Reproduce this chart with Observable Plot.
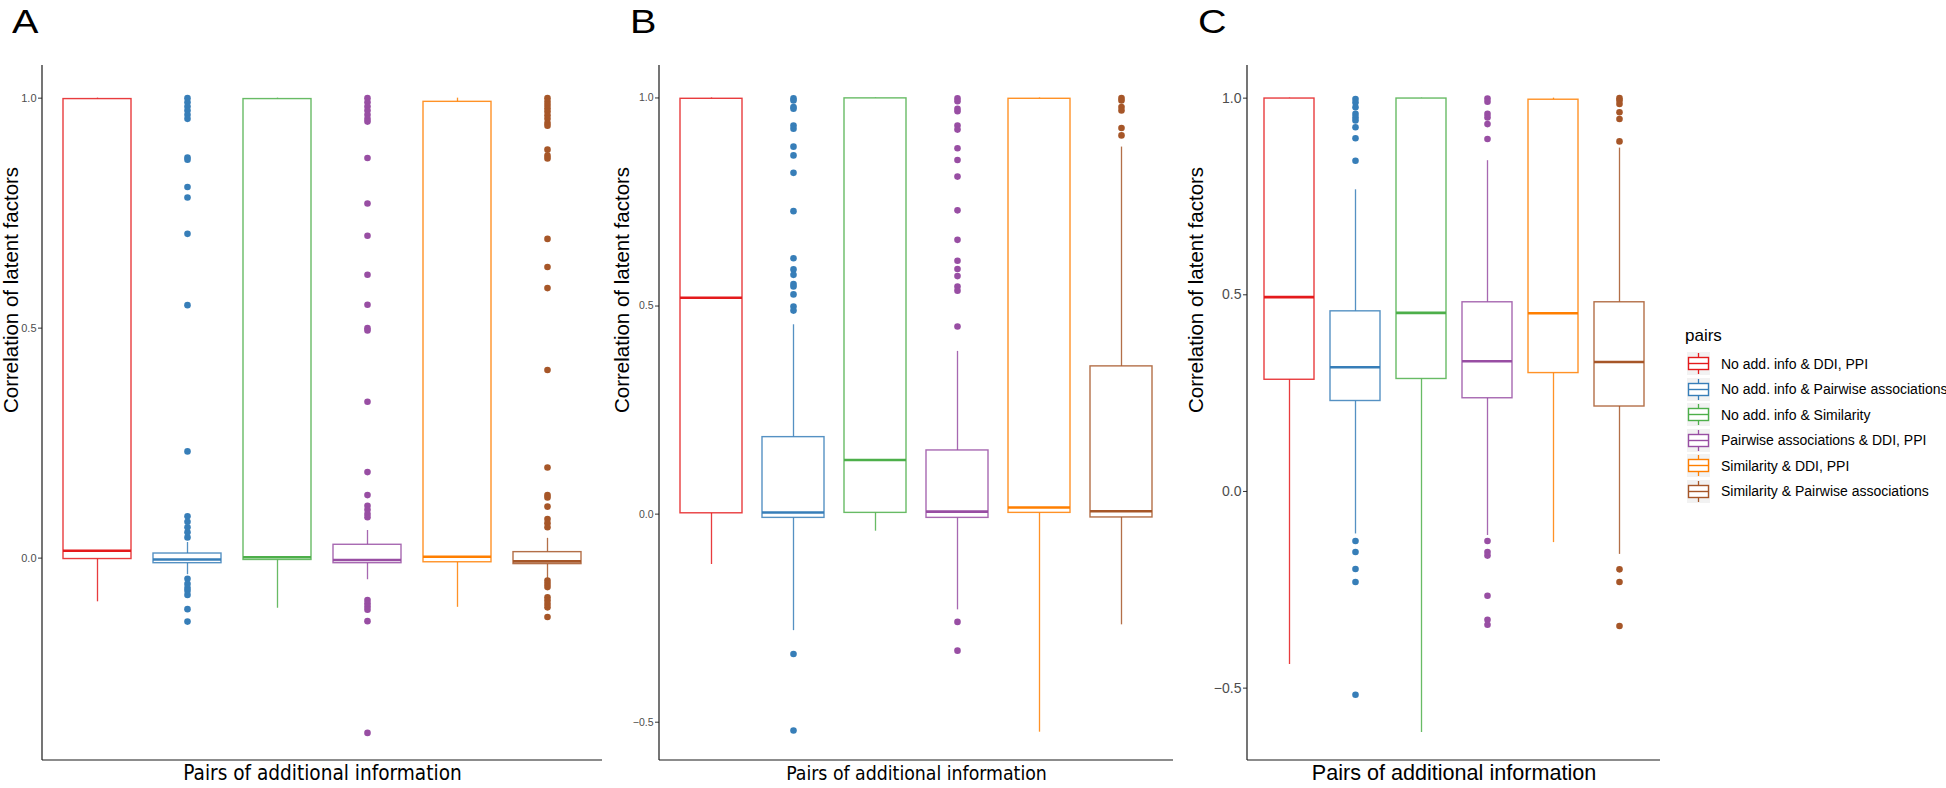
<!DOCTYPE html>
<html><head><meta charset="utf-8">
<script src="https://cdn.jsdelivr.net/npm/d3@7"></script>
<script src="https://cdn.jsdelivr.net/npm/@observablehq/plot@0.6"></script>
<style>
body{margin:0;background:#fff;}
#wrap{position:relative;width:1946px;height:788px;overflow:hidden;background:#fff;font-family:"Liberation Sans",Arial,sans-serif;}
.panel{position:absolute;top:0;}
.letter{position:absolute;top:5px;font-family:"Liberation Sans",Arial,sans-serif;font-size:33px;line-height:34px;color:#000;transform:scaleX(1.2);transform-origin:0 0;}
.ltitle{position:absolute;left:1685px;top:325px;font-size:17px;line-height:22px;color:#000;}
.lrow{position:absolute;left:1687px;height:23px;display:flex;align-items:center;}
.lrow span{margin-left:11px;font-size:14px;color:#000;white-space:nowrap;}
</style></head><body><div id="wrap"></div>
<script>
// ---- data ----
const pairs = ["No add. info & DDI, PPI", "No add. info & Pairwise associations", "No add. info & Similarity", "Pairwise associations & DDI, PPI", "Similarity & DDI, PPI", "Similarity & Pairwise associations"];
const pairColors = ["#E41A1C", "#377EB8", "#4DAF4A", "#984EA3", "#FF7F00", "#A65628"];
const yTicks = [-0.5, 0.0, 0.5, 1.0];
const yTitle = "Correlation of latent factors";
const xTitle = "Pairs of additional information";
const legendTitle = "pairs";
const panelLetters = ["A", "B", "C"];

// Panel A
const A_low    = [-0.095, -0.036, -0.109, -0.047, -0.107, -0.045];
const A_q1     = [-0.002, -0.011, -0.004, -0.011, -0.009, -0.013];
const A_median = [ 0.016, -0.003,  0.002, -0.004,  0.003, -0.007];
const A_q3     = [ 0.998,  0.010,  0.998,  0.029,  0.992,  0.013];
const A_high   = [ 1.000,  0.034,  1.000,  0.060,  1.000,  0.043];
const A_outliers = [
  [],
  [1.0, 0.991, 0.982, 0.973, 0.964, 0.955, 0.871, 0.866, 0.807, 0.784, 0.705, 0.550, 0.232, 0.091, 0.079, 0.067, 0.056, 0.045, -0.045, -0.056, -0.065, -0.071, -0.080, -0.111, -0.138],
  [],
  [1.0, 0.991, 0.982, 0.973, 0.964, 0.955, 0.949, 0.870, 0.771, 0.701, 0.616, 0.551, 0.500, 0.495, 0.340, 0.187, 0.137, 0.114, 0.105, 0.096, 0.089, -0.091, -0.098, -0.105, -0.112, -0.137, -0.380],
  [],
  [1.0, 0.992, 0.985, 0.978, 0.971, 0.963, 0.955, 0.946, 0.940, 0.888, 0.875, 0.869, 0.694, 0.633, 0.587, 0.409, 0.197, 0.137, 0.132, 0.112, 0.085, 0.076, 0.067, -0.049, -0.056, -0.063, -0.085, -0.092, -0.100, -0.107, -0.128]
];

// Panel B
const B_low    = [-0.121, -0.280, -0.041, -0.230, -0.524, -0.266];
const B_q1     = [ 0.002, -0.009,  0.003, -0.009,  0.003, -0.008];
const B_median = [ 0.520,  0.004,  0.130,  0.006,  0.016,  0.007];
const B_q3     = [ 0.998,  0.185,  0.999,  0.153,  0.998,  0.355];
const B_high   = [ 1.000,  0.455,  1.000,  0.391,  1.000,  0.882];
const B_outliers = [
  [],
  [0.999, 0.994, 0.978, 0.974, 0.934, 0.926, 0.883, 0.862, 0.820, 0.728, 0.615, 0.588, 0.575, 0.553, 0.547, 0.528, 0.499, 0.489, -0.336, -0.520],
  [],
  [0.999, 0.992, 0.974, 0.968, 0.934, 0.924, 0.879, 0.851, 0.811, 0.730, 0.659, 0.609, 0.589, 0.572, 0.547, 0.537, 0.451, -0.259, -0.328],
  [],
  [1.0, 0.994, 0.978, 0.970, 0.928, 0.910]
];

// Panel C
const C_low    = [-0.440, -0.108, -0.613, -0.112, -0.130, -0.160];
const C_q1     = [ 0.284,  0.230,  0.286,  0.237,  0.301,  0.216];
const C_median = [ 0.494,  0.316,  0.454,  0.331,  0.453,  0.329];
const C_q3     = [ 0.999,  0.458,  0.999,  0.481,  0.996,  0.481];
const C_high   = [ 1.000,  0.767,  1.000,  0.841,  1.000,  0.873];
const C_outliers = [
  [],
  [0.998, 0.989, 0.977, 0.960, 0.951, 0.943, 0.926, 0.898, 0.841, -0.126, -0.154, -0.197, -0.230, -0.517],
  [],
  [0.999, 0.991, 0.960, 0.951, 0.934, 0.896, -0.126, -0.154, -0.163, -0.265, -0.326, -0.339],
  [],
  [1.0, 0.994, 0.985, 0.964, 0.947, 0.890, -0.198, -0.230, -0.342]
];

// ---- layout ----
const panelsCfg = [
  {left: 0,    width: 610, marginLeft: 42, marginRight: 8,  yDomain: [-0.440, 1.071], tickFont: 11, yTitleDx: -31, xFont: 20.6, xFamily: "'Liberation Sans Narrow', 'DejaVu Sans Condensed', sans-serif", letterX: 12},
  {left: 610,  width: 570, marginLeft: 49, marginRight: 7,  yDomain: [-0.592, 1.078], tickFont: 10.5, yTitleDx: -37, xFont: 19.3, xFamily: "'Liberation Sans Narrow', 'DejaVu Sans Condensed', sans-serif", letterX: 630},
  {left: 1180, width: 490, marginLeft: 67, marginRight: 10, yDomain: [-0.684, 1.083], tickFont: 14, yTitleDx: -51, xFont: 21.6, xFamily: "'Liberation Sans', Arial, sans-serif", letterX: 1198}
];
const panelData = [
  [A_low, A_q1, A_median, A_q3, A_high, A_outliers],
  [B_low, B_q1, B_median, B_q3, B_high, B_outliers],
  [C_low, C_q1, C_median, C_q3, C_high, C_outliers]
];

function makePanel(cfg, [low, q1, med, q3, high, outl]) {
  const stats = pairs.map((p, i) => ({pair: p, low: low[i], q1: q1[i], median: med[i], q3: q3[i], high: high[i]}));
  const pts = pairs.flatMap((p, i) => outl[i].map(v => ({pair: p, value: v})));
  const [y0, y1] = cfg.yDomain;
  const ticks = yTicks.filter(t => t >= y0 && t <= y1);
  const axisLines = (index, scales, values, dims) => {
    const g = d3.create("svg:g").attr("stroke", "#1a1a1a").attr("stroke-width", 1.2);
    const L = dims.marginLeft, B = dims.height - dims.marginBottom;
    g.append("line").attr("x1", L).attr("x2", L).attr("y1", dims.marginTop).attr("y2", B);
    g.append("line").attr("x1", L).attr("x2", dims.width - dims.marginRight).attr("y1", B).attr("y2", B);
    return g.node();
  };
  return Plot.plot({
    width: cfg.width, height: 788,
    marginLeft: cfg.marginLeft, marginRight: cfg.marginRight, marginTop: 65, marginBottom: 28,
    style: {background: "transparent", overflow: "visible", fontFamily: "'Liberation Sans', Arial, sans-serif", maxWidth: "none"},
    x: {type: "band", domain: pairs, paddingInner: 0.25, paddingOuter: 0.225, axis: null},
    y: {domain: cfg.yDomain, axis: null},
    color: {domain: pairs, range: pairColors},
    marks: [
      Plot.ruleX(stats, {x: "pair", y1: "q3", y2: "high", stroke: "pair", strokeWidth: 1.3, strokeOpacity: 0.85}),
      Plot.ruleX(stats, {x: "pair", y1: "low", y2: "q1", stroke: "pair", strokeWidth: 1.3, strokeOpacity: 0.85}),
      Plot.barY(stats, {x: "pair", y1: "q1", y2: "q3", fill: "white", stroke: "pair", strokeWidth: 1.4, strokeOpacity: 0.85}),
      Plot.tickY(stats, {x: "pair", y: "median", stroke: "pair", strokeWidth: 2.6}),
      Plot.dot(pts, {x: "pair", y: "value", fill: "pair", r: 3.3}),
      Plot.axisY({ticks, tickFormat: d => d3.format(".1f")(d), tickSize: 4, tickPadding: 2, fontSize: cfg.tickFont, fill: "#4d4d4d", stroke: "#333", label: null}),
      axisLines,
      Plot.text([yTitle], {text: d => d, frameAnchor: "left", rotate: -90, dx: cfg.yTitleDx, fontSize: 20.5, fill: "#000"}),
      Plot.text([xTitle], {text: d => d, frameAnchor: "bottom", dy: 19.4, fontSize: cfg.xFont, fontFamily: cfg.xFamily, fill: "#000"})
    ]
  });
}

const wrap = document.getElementById("wrap");
panelsCfg.forEach((cfg, k) => {
  const svg = makePanel(cfg, panelData[k]);
  const holder = document.createElement("div");
  holder.className = "panel";
  holder.style.left = cfg.left + "px";
  holder.style.width = cfg.width + "px";
  holder.appendChild(svg);
  wrap.appendChild(holder);
  const lt = document.createElement("div");
  lt.className = "letter";
  lt.style.left = cfg.letterX + "px";
  lt.textContent = panelLetters[k];
  wrap.appendChild(lt);
});

// legend
const lt = document.createElement("div");
lt.className = "ltitle";
lt.textContent = legendTitle;
wrap.appendChild(lt);
pairs.forEach((p, i) => {
  const row = document.createElement("div");
  row.className = "lrow";
  row.style.top = (352 + 25.5 * i) + "px";
  const c = pairColors[i];
  row.innerHTML = `<svg width="23" height="23" style="display:block"><rect width="23" height="23" fill="#f2f2f2"/>` +
    `<line x1="11.5" x2="11.5" y1="1" y2="22" stroke="${c}" stroke-width="1.3"/>` +
    `<rect x="1.5" y="5.5" width="20" height="12" fill="white" stroke="${c}" stroke-width="1.4"/>` +
    `<line x1="1.5" x2="21.5" y1="11.5" y2="11.5" stroke="${c}" stroke-width="1.4"/></svg>`;
  const s = document.createElement("span");
  s.textContent = p;
  row.appendChild(s);
  wrap.appendChild(row);
});
</script></body></html>
